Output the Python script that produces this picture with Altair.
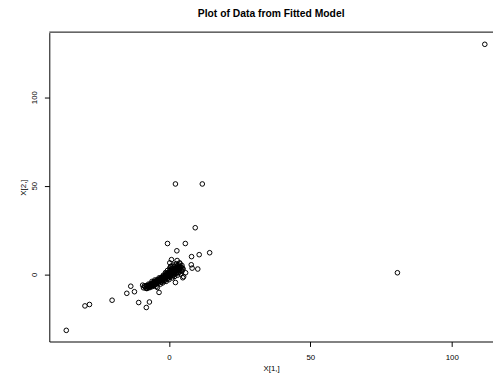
import altair as alt
import pandas as pd

# Values
outer_x = [2.3, 11.8, 9.3, -0.5, 5.8, 2.8, 14.4, 10.7, 8.0, 0.9, 2.9, 3.8, 4.6, 7.9, 8.2, 10.2,
           5.9, 5.2, 4.9, 4.6, 2.3, -4.1, -3.5, -13.5, -14.9, -12.2, -20.1, -29.7, -28.1, -10.7,
           -6.9, -8.0, -8.7, -9.3, -7.8, -6.4, -36.3, 80.8, 111.7, 0.8, 0.3]
outer_y = [51.0, 51.0, 26.3, 17.4, 17.4, 13.3, 12.2, 11.1, 10.0, 8.3, 7.8, 6.5, 5.0, 5.4, 3.5, 3.0,
           0.9, -1.3, -1.9, 1.8, -4.6, -7.4, -10.2, -6.7, -10.7, -9.8, -14.6, -17.8, -17.0, -15.9,
           -15.6, -18.7, -6.5, -6.1, -8.0, -5.6, -31.6, 0.9, 129.8, 4.6, 6.5]

core_x = [-7.5, -7.0, -6.8, -6.5, -6.2, -6.0, -5.8, -5.5, -5.3, -5.0, -4.8, -4.6, -4.4, -4.2, -4.0,
          -3.8, -3.6, -3.4, -3.2, -3.0, -2.8, -2.6, -2.4, -2.2, -2.0, -1.8, -1.6, -1.4, -1.2, -1.0,
          -0.8, -0.6, -0.4, -0.2, 0.0, 0.2, 0.4, 0.6, 0.8, 1.0, 1.2, 1.4, 1.6, 1.8, 2.0, 2.2, 2.4,
          2.6, 2.8, 3.0, 3.2, 3.4, 3.6, 3.8, 4.0, -2.5, -1.5, -0.5, 0.5, 1.5, 2.5, 3.5, -3.5, -2.0,
          -1.0, 0.2, 1.0, 0.3, -0.5, -1.2, -6.0, -5.0, -7.2, -8.0, -8.5, -4.5, -3.0, -2.2, -1.0,
          0.0, 1.2, 2.0, 3.0, 4.2, 2.0, 1.5, 0.6, 3.3, 4.3, 4.8,
          -7.8, -7.3, -6.9, -6.6, -6.3, -5.9, -5.6, -5.2, -4.9, -4.5, -4.1, -3.7, -3.3, -2.9, -2.5,
          -2.1, -1.7, -1.3, -0.9, -0.5, -0.1, 0.3, 0.7, 1.1, 1.5, 1.9, 2.3, 2.7, 3.1, 3.5,
          -7.6, -7.1, -6.7, -6.1, -5.7, -5.1, -4.7, -4.3, -3.9, -3.1, -2.7, -2.3, -1.9, -1.1,
          -0.7, -0.3, 0.1, 0.9, 1.3, 1.7, 2.1, 2.9, 3.7, 4.4, 5.0, 3.9, 2.6, 1.0, -9.0, -8.2]
core_y = [-7.2, -6.8, -7.5, -6.0, -6.6, -5.4, -6.2, -5.0, -5.8, -4.6, -5.3, -4.2, -4.9, -3.8, -4.5,
          -3.4, -4.1, -3.0, -3.7, -2.7, -3.3, -2.3, -2.9, -1.9, -2.6, -1.5, -2.2, -1.2, -1.9, -0.8,
          -1.5, -0.4, -1.1, 0.0, -0.7, 0.4, -0.3, 0.8, 0.1, 1.3, 0.5, 1.8, 0.9, 2.3, 1.3, 2.8, 1.7,
          3.4, 2.1, 4.0, 2.6, 4.6, 3.0, 1.5, 3.8, -4.2, -3.5, -2.5, -1.5, -0.5, 0.3, 1.0, -2.0, -0.5,
          0.6, 1.8, 2.8, 3.5, 2.2, 1.0, -4.0, -3.2, -5.5, -6.3, -7.0, -6.8, -5.5, -4.8, -4.0,
          -3.0, -2.0, -1.2, -0.5, 0.2, 4.5, 5.2, 4.4, 5.4, 2.2, 3.5,
          -7.9, -7.4, -6.3, -7.1, -5.8, -6.9, -5.1, -6.4, -4.5, -5.6, -4.0, -5.0, -3.2, -4.3, -2.6,
          -3.6, -2.0, -2.8, -1.3, -2.1, -0.6, -1.4, 0.2, -0.6, 1.0, 0.2, 2.0, 1.0, 3.0, 2.0,
          -6.5, -6.0, -5.8, -5.0, -4.8, -4.1, -3.9, -3.2, -3.1, -2.2, -1.9, -1.4, -0.9, -0.1,
          0.2, 0.7, 1.0, 1.9, 2.5, 3.0, 3.4, 4.8, 4.3, 4.0, 3.0, 5.9, 6.0, 3.5, -7.6, -7.8]

x_ticks = [0, 50, 100]
y_ticks = [0, 50, 100]

df = pd.DataFrame({"x": outer_x + core_x, "y": outer_y + core_y})

FONT = "Liberation Sans"

points = alt.Chart(df).mark_point(
    shape="circle", filled=False, color="black", size=22, strokeWidth=1, opacity=1
).encode(
    x=alt.X("x:Q", scale=alt.Scale(domain=[-42.3, 114.6], nice=False, zero=False),
            axis=alt.Axis(values=x_ticks, title="X[1,]", grid=False, domainColor="black",
                          tickColor="black", tickSize=5, labelPadding=7, titlePadding=3,
                          labelFontSize=8, titleFontSize=8, labelFont=FONT, titleFont=FONT,
                          titleFontWeight="normal", labelColor="black", titleColor="black")),
    y=alt.Y("y:Q", scale=alt.Scale(domain=[-37.9, 136.4], nice=False, zero=False),
            axis=alt.Axis(values=y_ticks, title="X[2,]", grid=False, domainColor="black",
                          tickColor="black", tickSize=5, labelAngle=-90, labelAlign="center",
                          labelBaseline="bottom", labelPadding=6,
                          titleX=-26, titleBaseline="middle",
                          labelFontSize=8, titleFontSize=8, labelFont=FONT, titleFont=FONT,
                          titleFontWeight="normal", labelColor="black", titleColor="black")),
)

# one-row frame line along the top edge of the plot box
top_border = alt.Chart(pd.DataFrame({"edge": ["top"]})).mark_rule(
    color="black", strokeWidth=1
).encode(y=alt.value(-0.5))

chart = alt.layer(points, top_border).properties(
    width=451, height=314,
    title=alt.TitleParams("Plot of Data from Fitted Model", font=FONT, fontSize=10.5,
                          fontWeight="bold", anchor="middle", offset=12, color="black"),
    autosize=alt.AutoSizeParams(type="none"),
    padding={"left": 42, "top": 22, "right": 0, "bottom": 30},
).configure_view(stroke=None).configure_axis(domainWidth=1, tickWidth=1)

chart.save("out.html", embed_options={"renderer": "svg", "actions": False})
